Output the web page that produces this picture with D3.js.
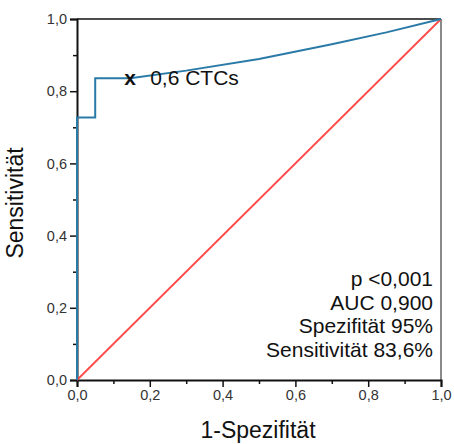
<!DOCTYPE html>
<html>
<head>
<meta charset="utf-8">
<script src="https://cdn.jsdelivr.net/npm/d3@7"></script>
<style>
  body { margin: 0; background: #fff; }
  text { font-family: "Liberation Sans", Arial, sans-serif; fill: #111; }
</style>
</head>
<body>
<svg id="chart" width="454" height="444"></svg>
<script>
/* ---------------- DATA ---------------- */
const rocFpr = [0, 0, 0.05, 0.05, 0.146, 0.3, 0.5, 0.7, 0.85, 1];
const rocTpr = [0, 0.727, 0.727, 0.836, 0.836, 0.857, 0.889, 0.93, 0.963, 1];
const cutoff = { fpr: 0.146, tpr: 0.836, label: "0,6 CTCs" };
const majorTicks = [0, 0.2, 0.4, 0.6, 0.8, 1.0];
const minorTicks = [0.1, 0.3, 0.5, 0.7, 0.9];
const statsLines = ["p <0,001", "AUC 0,900", "Spezifität 95%", "Sensitivität 83,6%"];

/* ---------------- SETUP ---------------- */
const svg = d3.select("#chart");
const plotLeft = 77, plotRight = 441, plotTop = 19, plotBottom = 380;

const x = d3.scaleLinear().domain([0, 1]).range([plotLeft, plotRight]);
const y = d3.scaleLinear().domain([0, 1]).range([plotBottom, plotTop]);
const fmt = d => d3.format(".1f")(d).replace(".", ",");

/* ---------------- FRAME ---------------- */
svg.append("line")
  .attr("x1", plotLeft).attr("x2", plotRight).attr("y1", plotTop).attr("y2", plotTop)
  .attr("stroke", "#111").attr("stroke-width", 1.5);
svg.append("line")
  .attr("x1", plotRight).attr("x2", plotRight).attr("y1", plotTop).attr("y2", plotBottom)
  .attr("stroke", "#8a8a8a").attr("stroke-width", 2);

/* ---------------- AXES ---------------- */
svg.append("g").attr("transform", `translate(0,${plotBottom})`)
  .call(d3.axisBottom(x).tickValues(majorTicks).tickFormat(fmt).tickSize(7).tickPadding(3));
svg.append("g").attr("transform", `translate(0,${plotBottom})`)
  .call(d3.axisBottom(x).tickValues(minorTicks).tickFormat("").tickSize(4))
  .call(g => g.select(".domain").remove());

svg.append("g").attr("transform", `translate(${plotLeft},0)`)
  .call(d3.axisLeft(y).tickValues(majorTicks).tickFormat(fmt).tickSize(7).tickPadding(3));
svg.append("g").attr("transform", `translate(${plotLeft},0)`)
  .call(d3.axisLeft(y).tickValues(minorTicks).tickFormat("").tickSize(4))
  .call(g => g.select(".domain").remove());

svg.selectAll(".domain").attr("stroke", "#111").attr("stroke-width", 2);
svg.selectAll(".tick line").attr("stroke", "#111").attr("stroke-width", 1.5);
svg.selectAll(".tick text").style("font-size", "14.5px").style("fill", "#333");

/* ---------------- REFERENCE LINE ---------------- */
svg.append("line")
  .attr("x1", x(0)).attr("y1", y(0)).attr("x2", x(1)).attr("y2", y(1))
  .attr("stroke", "#ff4a4a").attr("stroke-width", 1.8);

/* ---------------- ROC CURVE ---------------- */
const line = d3.line().x(d => x(d[0])).y(d => y(d[1]));
svg.append("path")
  .datum(d3.zip(rocFpr, rocTpr))
  .attr("d", line)
  .attr("fill", "none")
  .attr("stroke", "#2a7aa8")
  .attr("stroke-width", 2);

/* ---------------- CUTOFF MARKER ---------------- */
svg.append("text")
  .attr("x", x(cutoff.fpr)).attr("y", y(cutoff.tpr) + 7)
  .attr("text-anchor", "middle")
  .style("font-size", "21px").style("font-weight", "bold")
  .text("x");
svg.append("text")
  .attr("x", x(cutoff.fpr) + 20).attr("y", y(cutoff.tpr) + 7)
  .style("font-size", "21px")
  .text(cutoff.label);

/* ---------------- STATS ---------------- */
svg.append("g").selectAll("text")
  .data(statsLines)
  .enter()
  .append("text")
  .attr("x", 433)
  .attr("y", (d, i) => 286 + i * 23.7)
  .attr("text-anchor", "end")
  .style("font-size", "21px")
  .text(d => d);

/* ---------------- AXIS TITLES ---------------- */
svg.append("text")
  .attr("x", 258).attr("y", 438)
  .attr("text-anchor", "middle")
  .style("font-size", "23px")
  .text("1-Spezifität");
svg.append("text")
  .attr("transform", "translate(23,203) rotate(-90)")
  .attr("text-anchor", "middle")
  .style("font-size", "23px")
  .text("Sensitivität");
</script>
</body>
</html>
